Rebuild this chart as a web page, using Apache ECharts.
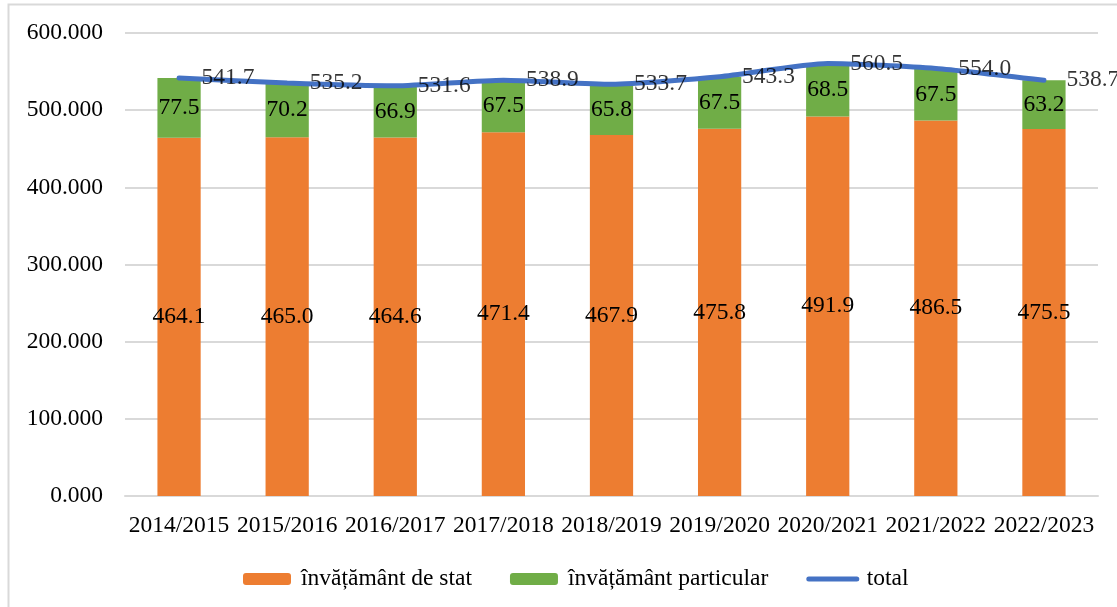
<!DOCTYPE html>
<html>
<head>
<meta charset="utf-8">
<script src="https://cdn.jsdelivr.net/npm/echarts@6/dist/echarts.min.js"></script>
<style>
  html, body { margin: 0; padding: 0; background: #fff; }
  #chart { width: 1117px; height: 607px; }
</style>
</head>
<body>
<div id="chart"></div>
<script>
const years = ['2014/2015', '2015/2016', '2016/2017', '2017/2018', '2018/2019', '2019/2020', '2020/2021', '2021/2022', '2022/2023']
const stat = [464.1, 465.0, 464.6, 471.4, 467.9, 475.8, 491.9, 486.5, 475.5]
const particular = [77.5, 70.2, 66.9, 67.5, 65.8, 67.5, 68.5, 67.5, 63.2]
const total = [541.7, 535.2, 531.6, 538.9, 533.7, 543.3, 560.5, 554.0, 538.7]

const font = 'Liberation Serif, Times New Roman, serif'
const fs = 23.5
const chart = echarts.init(document.getElementById('chart'))

const labelOne = (p) => p.value.toFixed(1)

chart.setOption({
  animation: false,
  textStyle: { fontFamily: font },
  graphic: [{
    type: 'rect',
    shape: { x: 8.5, y: 4.5, width: 1200, height: 700 },
    style: { fill: 'none', stroke: '#D9D9D9', lineWidth: 2 },
    silent: true
  }],
  grid: { left: 125, right: 19, top: 33, bottom: 111 },
  legend: {
    left: 238,
    top: 562,
    itemWidth: 48,
    itemHeight: 12,
    itemGap: 38,
    textStyle: { fontFamily: font, fontSize: fs, color: '#000', padding: [0, 0, 0, 5] },
    data: [
      'învățământ de stat',
      'învățământ particular',
      { name: 'total', itemStyle: { opacity: 0 }, lineStyle: { width: 5, cap: 'round' } }
    ]
  },
  xAxis: {
    type: 'category',
    data: years,
    axisTick: { show: false },
    axisLine: { lineStyle: { color: '#D9D9D9', width: 2 } },
    axisLabel: { fontFamily: font, fontSize: fs, color: '#000', margin: 18, interval: 0 }
  },
  yAxis: {
    type: 'value',
    min: 0,
    max: 600,
    interval: 100,
    axisLine: { show: false },
    axisTick: { show: false },
    splitLine: { lineStyle: { color: '#D9D9D9', width: 2 } },
    axisLabel: {
      fontFamily: font, fontSize: fs, color: '#000', margin: 22,
      formatter: (v) => v.toFixed(3)
    }
  },
  series: [
    {
      name: 'învățământ de stat',
      type: 'bar',
      stack: 'a',
      barWidth: '40%',
      data: stat,
      itemStyle: { color: '#ED7D31' },
      label: { show: true, position: 'inside', fontFamily: font, fontSize: fs, color: '#000', formatter: labelOne }
    },
    {
      name: 'învățământ particular',
      type: 'bar',
      stack: 'a',
      data: particular,
      itemStyle: { color: '#70AD47' },
      label: { show: true, position: 'inside', fontFamily: font, fontSize: fs, color: '#000', formatter: labelOne }
    },
    {
      name: 'total',
      type: 'line',
      data: total,
      smooth: 0.2,
      symbol: 'none',
      lineStyle: { color: '#4472C4', width: 5, cap: 'round' },
      itemStyle: { color: '#4472C4' },
      z: 5
    },
    {
      // labels for the total line
      name: 'total-labels',
      type: 'scatter',
      data: total,
      symbolSize: 1,
      itemStyle: { color: 'rgba(0,0,0,0)' },
      label: { show: true, position: 'right', distance: 22, fontFamily: font, fontSize: fs, color: '#000', formatter: labelOne },
      z: 6
    }
  ]
})
</script>
</body>
</html>
